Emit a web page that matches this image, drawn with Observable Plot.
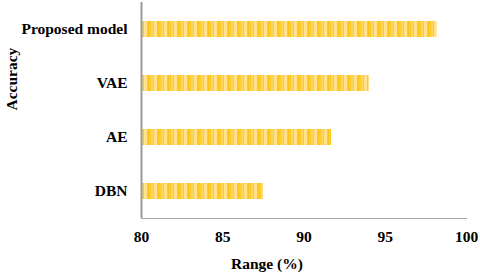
<!DOCTYPE html>
<html><head><meta charset="utf-8">
<script src="https://cdn.jsdelivr.net/npm/d3@7"></script>
<script src="https://cdn.jsdelivr.net/npm/@observablehq/plot@0.6"></script>
<style>
body{margin:0;background:#fff}
svg, svg text{font-family:"Liberation Serif","Times New Roman",serif !important;font-weight:bold;}
</style>
</head><body>
<div id="chart"></div>
<script>
const models = ["Proposed model", "VAE", "AE", "DBN"];
const accuracy = [98.2, 94.0, 91.7, 87.5];
const xTicks = [80, 85, 90, 95, 100];

const data = models.map((m, i) => ({model: m, value: accuracy[i]}));
const serif = "Liberation Serif";

const chart = Plot.plot({
  width: 480, height: 280,
  marginLeft: 141, marginRight: 14, marginTop: 2, marginBottom: 62,
  style: {fontFamily: serif, fontSize: "15.5px", color: "#000", background: "#fff"},
  x: {domain: [80, 100], ticks: xTicks},
  y: {domain: models, paddingInner: 0.7, paddingOuter: 0.35},
  marks: [
    Plot.barX(data, {x1: 80, x2: "value", y: "model", fill: "url(#stripes)"}),
    Plot.axisY({tickSize: 0, tickPadding: 14, label: null, fontSize: 15.5, fontFamily: serif}),
    Plot.axisX({tickSize: 0, tickPadding: 12, label: null, fontSize: 15.5, fontFamily: serif, ticks: xTicks}),
    Plot.frame({anchor: "bottom", stroke: "#aaa", strokeWidth: 1}),
    Plot.ruleX([80], {stroke: "#999", strokeWidth: 2}),
    Plot.text(["Range (%)"], {frameAnchor: "bottom", dy: 50, dx: -37, fontSize: 15.5, fontFamily: serif, fill: "#000"}),
    Plot.text(["Accuracy"], {frameAnchor: "left", dx: -129, rotate: -90, fontSize: 15.5, fontFamily: serif, fill: "#000"})
  ]
});

const ns = "http://www.w3.org/2000/svg";
const defs = document.createElementNS(ns, "defs");
defs.innerHTML = `<pattern id="stripes" patternUnits="userSpaceOnUse" width="10" height="20">
  <rect x="0" y="0" width="10" height="20" fill="#FFCA2E"/>
  <rect x="1" y="0" width="2" height="20" fill="#FFD75E"/>
  <rect x="4" y="0" width="3" height="20" fill="#FFE18E"/>
  <rect x="8" y="0" width="1" height="20" fill="#FFC41A"/>
</pattern>`;
chart.insertBefore(defs, chart.firstChild);
document.getElementById("chart").appendChild(chart);
</script>
</body></html>
